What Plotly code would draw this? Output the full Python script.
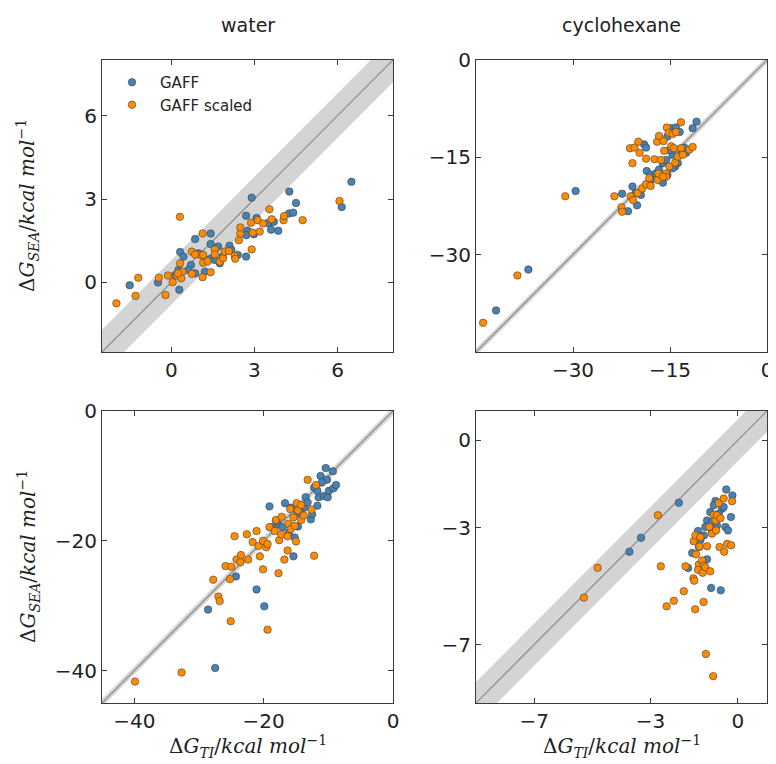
import plotly.graph_objects as go

# ---------------- data ----------------
# water, top-left: x = dG_TI, y = dG_SEA
wat_gaff_x = [-1.5, -0.48, 0.29, 0.32, 0.86, 1.42, 2.9, 2.7, 3.08, 2.76, 2.98, 2.7, 3.6, 3.6, 3.86, 4.26, 4.5,
              4.25, 4.4, 6.5, 6.15, 1.42, 1.69, 2.1, 1.85, 2.4, 2.7, 0.71, 0.86, 1.21, 0.26, 0.44, 0.98, 1.27,
              1.45, 1.57, 0.14, 0.62, 1.75, 2.17, 3.7, 3.48]
wat_gaff_y = [-0.1, 0.0, -0.26, 1.1, 1.56, 1.76, 3.05, 2.4, 2.32, 1.86, 1.73, 1.7, 2.18, 1.9, 1.86, 3.27, 2.86,
              2.48, 2.51, 3.62, 2.71, 1.38, 1.29, 1.32, 0.93, 0.99, 0.93, 0.63, 0.33, 0.39, 0.45, 0.93, 1.05, 0.81,
              0.87, 0.81, 0.27, 0.45, 0.69, 1.17, 2.18, 2.14]
wat_scal_x = [-1.98, -1.29, -1.19, -0.45, -0.21, -0.12, 0.05, 0.2, 0.31, 0.32, 0.4, 0.36, 0.74, 0.74, 1.13, 1.04,
              1.15, 1.15, 1.31, 1.13, 1.42, 1.57, 1.57, 1.75, 1.87, 1.93, 2.08, 2.29, 2.31, 2.44, 2.49, 2.49,
              2.88, 2.9, 2.94, 3.12, 3.19, 3.31, 3.54, 3.62, 4.05, 4.07, 4.74, 6.07, 0.24, 0.86]
wat_scal_y = [-0.75, -0.48, 0.17, 0.17, -0.45, 0.25, 0.01, 0.25, 2.36, 0.69, 0.39, 0.15, 1.11, 0.31, 1.76, 0.99,
              0.99, 0.71, 0.77, 0.19, 0.37, 1.19, 1.01, 0.75, 0.87, 1.11, 1.13, 0.95, 0.85, 1.52, 1.76, 1.98,
              2.15, 1.19, 1.79, 2.24, 1.83, 2.12, 2.63, 2.27, 2.24, 2.39, 2.24, 2.93, 0.33, 1.01]

# cyclohexane, top-right
cyc1_gaff_x = [-41.9, -36.9, -29.6, -22.4, -21.5, -20.1, -20.8, -19.5, -19.0, -18.7, -18.6, -18.0, -17.2, -16.1,
               -16.1, -15.6, -15.4, -14.8, -14.1, -13.5, -14.6, -13.8, -14.2, -13.3, -12.5, -12.8, -11.5, -10.9,
               -15.4, -16.7, -14.6, -15.1, -20.3, -18.0]
cyc1_gaff_y = [-38.6, -32.3, -20.2, -20.6, -23.3, -22.4, -19.5, -20.8, -13.0, -13.5, -17.1, -17.7, -17.5, -18.9,
               -15.9, -15.4, -11.8, -10.5, -10.4, -11.1, -14.6, -15.9, -16.4, -14.4, -14.3, -13.5, -10.5, -9.5,
               -17.7, -16.9, -16.7, -13.9, -20.5, -18.5]
cyc1_scal_x = [-43.9, -38.6, -31.2, -23.6, -22.5, -22.4, -21.2, -20.5, -19.9, -19.7, -20.8, -21.1, -20.7, -20.0,
               -19.3, -18.7, -18.2, -17.4, -17.0, -16.7, -16.0, -16.9, -16.8, -16.4, -15.9, -15.6, -15.5, -15.2,
               -14.6, -14.1, -13.3, -15.6, -15.1, -14.8, -14.4, -14.2, -13.8, -13.3, -13.0, -12.0, -11.5, -18.7,
               -18.0, -16.1]
cyc1_scal_y = [-40.5, -33.2, -21.0, -21.0, -22.7, -23.4, -13.6, -13.5, -12.6, -14.3, -15.9, -21.0, -21.6, -20.5,
               -19.8, -19.2, -18.2, -15.3, -12.6, -11.7, -12.5, -18.5, -17.5, -15.4, -14.0, -17.5, -10.4, -11.2,
               -11.4, -11.1, -9.6, -18.0, -16.4, -13.3, -13.6, -15.8, -14.9, -13.6, -14.6, -13.8, -13.4, -15.2,
               -19.4, -18.0]

# bottom-left
cyc2_gaff_x = [-27.5, -28.6, -21.1, -19.9, -24.3, -19.1, -16.7, -15.4, -15.2, -17.8, -17.1, -16.1, -14.7, -13.7,
               -13.5, -12.7, -12.5, -12.2, -11.7, -11.5, -11.2, -10.7, -10.4, -10.2, -10.1, -9.9, -9.3, -9.2, -8.8,
               -11.0, -13.2, -14.4, -15.8, -18.1, -18.9, -14.8, -11.7]
cyc2_gaff_y = [-39.6, -30.6, -27.5, -30.1, -25.5, -14.7, -14.2, -22.4, -19.5, -17.4, -17.9, -18.7, -17.8, -14.9,
               -13.3, -16.7, -15.9, -11.8, -14.6, -13.3, -10.0, -13.1, -8.8, -10.6, -13.3, -12.3, -9.3, -11.9, -11.4,
               -11.0, -14.1, -15.6, -14.9, -16.9, -17.9, -15.8, -12.3]
cyc2_scal_x = [-39.9, -32.7, -25.1, -19.4, -27.0, -26.8, -27.8, -25.2, -25.9, -25.0, -24.2, -23.5, -23.6, -22.4,
               -24.5, -22.6, -21.7, -21.1, -20.8, -20.6, -20.1, -20.1, -19.6, -19.4, -19.1, -18.3, -18.1, -17.7,
               -17.6, -17.3, -17.2, -16.8, -16.3, -16.3, -16.2, -15.9, -15.8, -15.4, -15.2, -15.0, -14.9, -14.7,
               -14.2, -14.2, -13.8, -13.2, -12.6, -12.2, -11.9]
cyc2_scal_y = [-41.7, -40.3, -32.4, -33.7, -28.6, -29.3, -26.0, -25.9, -23.9, -24.0, -22.9, -22.2, -23.3, -22.9,
               -19.3, -19.0, -20.2, -18.5, -20.8, -22.4, -24.4, -20.0, -21.0, -20.5, -17.9, -18.5, -16.8, -25.0,
               -19.9, -19.0, -16.3, -22.9, -21.5, -19.3, -17.4, -15.1, -18.2, -16.4, -17.7, -20.1, -14.2, -15.3,
               -14.5, -16.8, -16.1, -10.6, -15.2, -22.3, -11.4]

# bottom-right
cyc3_gaff_x = [-2.03, -3.33, -3.73, -0.92, -0.59, -0.40, -0.19, -0.77, -0.83, -0.55, -0.95, -0.66, -1.06, -0.89,
               -1.12, -0.72, -0.43, -0.34, -0.24, -1.37, -1.17, -1.57, -1.06, -1.71, -1.34, -0.89, -0.49, -1.29]
cyc3_gaff_y = [-2.14, -3.34, -3.82, -5.06, -5.14, -1.69, -1.89, -2.08, -2.23, -2.35, -2.46, -2.52, -2.75, -2.80,
               -2.97, -2.92, -2.97, -3.09, -2.63, -3.11, -3.26, -3.86, -4.08, -4.38, -3.66, -3.15, -2.29, -3.43]
cyc3_scal_x = [-5.29, -4.82, -2.75, -2.65, -2.45, -2.20, -1.86, -1.47, -1.18, -1.10, -0.85, -1.80, -1.53, -1.50,
               -1.44, -1.52, -1.46, -1.29, -1.32, -1.34, -1.37, -1.23, -1.17, -1.21, -1.12, -0.95, -1.06, -0.98,
               -0.89, -0.83, -0.77, -0.72, -0.60, -0.75, -0.66, -0.49, -0.20, -0.63, -0.47, -0.37, -0.23]
cyc3_scal_y = [-5.39, -4.37, -2.57, -4.32, -5.69, -5.50, -5.17, -5.79, -5.54, -7.32, -8.08, -4.32, -4.73, -4.81,
               -3.91, -3.46, -3.26, -3.32, -3.64, -4.26, -4.44, -4.12, -4.29, -4.54, -4.35, -4.49, -3.63, -2.97,
               -3.20, -2.55, -2.75, -2.57, -2.67, -3.09, -2.15, -2.00, -2.09, -3.66, -3.82, -3.55, -3.60]

panel_ranges = [[-2.5, 8], [-45, 0], [-45, 0], [-9, 1]]
panel_ticks = [[0, 3, 6], [-30, -15, 0], [-40, -20, 0], [-7, -3, 0]]
band_half = [0.8, 0.55, 0.6, 0.72]
col_titles = ["water", "cyclohexane"]
series_names = ["GAFF", "GAFF scaled"]

panels = [
    (wat_gaff_x, wat_gaff_y, wat_scal_x, wat_scal_y),
    (cyc1_gaff_x, cyc1_gaff_y, cyc1_scal_x, cyc1_scal_y),
    (cyc2_gaff_x, cyc2_gaff_y, cyc2_scal_x, cyc2_scal_y),
    (cyc3_gaff_x, cyc3_gaff_y, cyc3_scal_x, cyc3_scal_y),
]

# ---------------- figure ----------------
OFF = 8  # page body margin
W, H = 768, 756


def px(tx):
    return (tx - OFF) / W


def py(ty):
    return 1 - (ty - OFF) / H


xdom = [[px(102), px(393)], [px(476), px(767)]]
ydom = [[py(352), py(60)], [py(703), py(411)]]

BLUE = "#4682b4"
ORANGE = "#ff8c00"
FRAME = "#3a3a3a"

fig = go.Figure()
layout = dict(
    width=W, height=H,
    margin=dict(l=0, r=0, t=0, b=0, autoexpand=False),
    paper_bgcolor="white", plot_bgcolor="white",
    font=dict(family="DejaVu Sans", size=20, color="#222"),
    showlegend=True,
    legend=dict(x=px(104), y=py(66), xanchor="left", yanchor="top",
                bgcolor="rgba(0,0,0,0)", font=dict(size=15, color="#222"),
                itemwidth=46, tracegroupgap=0),
)

for i, (gx, gy, sx, sy) in enumerate(panels):
    r, c = divmod(i, 2)
    n = i + 1
    xa = "x" if n == 1 else f"x{n}"
    ya = "y" if n == 1 else f"y{n}"
    lo, hi = panel_ranges[i]
    h = band_half[i]
    fig.add_trace(go.Scatter(
        x=[lo, hi, hi, lo, lo], y=[lo - h, hi - h, hi + h, lo + h, lo - h],
        xaxis=xa, yaxis=ya, mode="lines", fill="toself",
        fillcolor="rgb(212,212,212)", line=dict(width=0), hoverinfo="skip", showlegend=False))
    fig.add_trace(go.Scatter(
        x=[lo, hi], y=[lo, hi], xaxis=xa, yaxis=ya, mode="lines",
        line=dict(color="#8a8a8a", width=1.2), hoverinfo="skip", showlegend=False))
    for (xs, ys, col, name) in [(gx, gy, BLUE, series_names[0]), (sx, sy, ORANGE, series_names[1])]:
        fig.add_trace(go.Scatter(
            x=xs, y=ys, xaxis=xa, yaxis=ya, mode="markers", name=name,
            marker=dict(color=col, size=7.5, line=dict(color="#404040", width=0.6)),
            showlegend=(i == 0), cliponaxis=False))
    axcommon = dict(range=[lo, hi], tickvals=panel_ticks[i], ticks="inside", ticklen=5,
                    tickcolor=FRAME, showline=True, linecolor=FRAME, linewidth=1, mirror="allticks",
                    showgrid=False, zeroline=False, tickfont=dict(size=20, color="#222"))
    layout["xaxis" if n == 1 else f"xaxis{n}"] = dict(axcommon, domain=xdom[c], anchor=ya)
    layout["yaxis" if n == 1 else f"yaxis{n}"] = dict(axcommon, domain=ydom[r], anchor=xa)

fig.update_layout(**layout)

xlab = "Δ<i>G</i><sub><i>TI</i></sub>/<i>kcal mol</i><sup>−1</sup>"
ylab = "Δ<i>G</i><sub><i>SEA</i></sub>/<i>kcal mol</i><sup>−1</sup>"
ann = []
for c, t in enumerate(col_titles):
    cx = (xdom[c][0] + xdom[c][1]) / 2
    ann.append(dict(text=t, x=cx, y=py(25), xref="paper", yref="paper", xanchor="center", yanchor="middle",
                    showarrow=False, font=dict(size=19, family="DejaVu Sans", color="#222")))
    ann.append(dict(text=xlab, x=cx, y=py(746), xref="paper", yref="paper", xanchor="center", yanchor="middle",
                    showarrow=False, font=dict(size=20, family="DejaVu Serif", color="#222")))
for r in range(2):
    ann.append(dict(text=ylab, x=px(28), y=(ydom[r][0] + ydom[r][1]) / 2, xref="paper", yref="paper",
                    xanchor="center", yanchor="middle", textangle=-90, showarrow=False,
                    font=dict(size=20, family="DejaVu Serif", color="#222")))
fig.update_layout(annotations=ann)

fig.write_html("out.html")
